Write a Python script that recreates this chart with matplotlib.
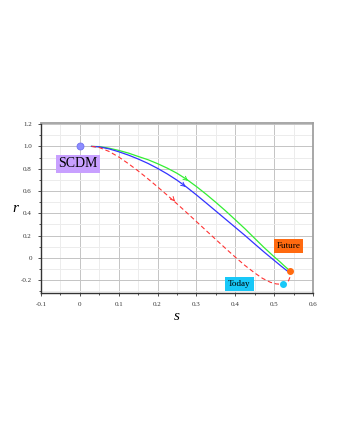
import matplotlib
matplotlib.use('Agg')
import matplotlib.pyplot as plt
from matplotlib.ticker import MultipleLocator

# curves (s, r)
blue_s = [0.03, 0.05, 0.075, 0.1, 0.125, 0.15, 0.175, 0.2, 0.225, 0.25, 0.275, 0.3,
          0.325, 0.35, 0.375, 0.4, 0.425, 0.45, 0.475, 0.5, 0.515, 0.525, 0.533, 0.537]
blue_r = [1.0, 0.996, 0.978, 0.952, 0.922, 0.887, 0.848, 0.803, 0.753, 0.697, 0.634, 0.565,
          0.493, 0.42, 0.347, 0.274, 0.201, 0.125, 0.05, -0.022, -0.065, -0.093, -0.115, -0.122]

green_s = [0.03, 0.05, 0.075, 0.1, 0.125, 0.15, 0.175, 0.2, 0.225, 0.25, 0.275, 0.3,
           0.325, 0.35, 0.375, 0.4, 0.425, 0.45, 0.475, 0.5, 0.515, 0.525, 0.537]
green_r = [1.0, 0.998, 0.984, 0.964, 0.94, 0.91, 0.881, 0.845, 0.805, 0.759, 0.704, 0.64,
           0.571, 0.498, 0.422, 0.342, 0.261, 0.175, 0.09, 0.01, -0.035, -0.068, -0.105]

red_s = [0.03, 0.05, 0.075, 0.1, 0.125, 0.15, 0.175, 0.2, 0.225, 0.25, 0.275, 0.3,
         0.325, 0.35, 0.375, 0.4, 0.425, 0.45, 0.47, 0.49, 0.505, 0.52, 0.53, 0.537,
         0.541, 0.542, 0.541]
red_r = [1.0, 0.99, 0.955, 0.905, 0.845, 0.78, 0.71, 0.637, 0.562, 0.485, 0.406, 0.326,
         0.245, 0.165, 0.085, 0.007, -0.068, -0.135, -0.183, -0.218, -0.233, -0.237, -0.228, -0.205,
         -0.17, -0.14, -0.115]

# arrow positions along the curves (tail, head)
arrows = [((0.268, 0.72), (0.284, 0.675), '#33ee33'),
          ((0.262, 0.666), (0.278, 0.621), '#3333ff'),
          ((0.236, 0.54), (0.25, 0.488), '#ff3333')]

# points and labels
scdm_pt = (0.0, 1.0)
future_pt = (0.541, -0.113)
today_pt = (0.523, -0.232)

plt.rcParams['font.family'] = ['Liberation Serif', 'DejaVu Serif']

fig = plt.figure(figsize=(3.4, 4.4), dpi=100)
ax = fig.add_axes([0.1206, 0.334, 0.8, 0.3865])

ax.plot(green_s, green_r, color='#33ee33', lw=0.9)
ax.plot(blue_s, blue_r, color='#3333ff', lw=0.9)
ax.plot(red_s, red_r, color='#ff3333', lw=0.8, ls=(0, (4, 2.5)))

for tail, head, c in arrows:
    ax.annotate('', xy=head, xytext=tail,
                arrowprops=dict(arrowstyle='->', color=c, lw=0.7,
                                mutation_scale=7))

ax.plot(*scdm_pt, 'o', ms=5, color='#8c8cff', mec='#7070f0', mew=0.6, zorder=5)
ax.plot(*future_pt, 'o', ms=4, color='#ff6a10', zorder=5)
ax.plot(*today_pt, 'o', ms=4, color='#18c8f8', zorder=5)

ax.text(-0.055, 0.845, 'SCDM', fontsize=10, va='center', ha='left',
        bbox=dict(boxstyle='square,pad=0.18', fc='#c8a0ff', ec='none'))
ax.text(0.507, 0.108, 'Future', fontsize=6.5, va='center', ha='left',
        bbox=dict(boxstyle='square,pad=0.3', fc='#ff6a10', ec='none'))
ax.text(0.381, -0.231, 'Today', fontsize=6.5, va='center', ha='left',
        bbox=dict(boxstyle='square,pad=0.35', fc='#18c8f8', ec='none'))

ax.set_xlim(-0.1, 0.6)
ax.set_ylim(-0.315, 1.21)
ax.xaxis.set_major_locator(MultipleLocator(0.1))
ax.xaxis.set_minor_locator(MultipleLocator(0.05))
ax.yaxis.set_major_locator(MultipleLocator(0.2))
ax.yaxis.set_minor_locator(MultipleLocator(0.1))
ax.set_xticks([-0.1, 0, 0.1, 0.2, 0.3, 0.4, 0.5, 0.6])
ax.set_xticklabels(['-0.1', '0', '0.1', '0.2', '0.3', '0.4', '0.5', '0.6'])
ax.set_yticks([-0.2, 0, 0.2, 0.4, 0.6, 0.8, 1.0, 1.2])
ax.set_yticklabels(['-0.2', '0', '0.2', '0.4', '0.6', '0.8', '1.0', '1.2'])

ax.grid(True, which='major', color='#c4c4c4', lw=0.7)
ax.grid(True, which='minor', color='#ececec', lw=0.7)
ax.set_axisbelow(True)

ax.tick_params(which='both', direction='out', labelsize=5, colors='#333333',
               length=2.5, width=0.6, pad=4)
ax.tick_params(which='minor', length=1.5)
for side in ['left', 'bottom']:
    ax.spines[side].set_color('#333333')
    ax.spines[side].set_linewidth(1.0)
for side in ['top', 'right']:
    ax.spines[side].set_color('#a0a0a0')
    ax.spines[side].set_linewidth(1.3)

ax.set_xlabel('s', fontsize=11, style='italic', labelpad=2)
ax.set_ylabel('r', fontsize=11, style='italic', rotation=0, labelpad=4, va='center')

fig.savefig('out.png', dpi=100)
